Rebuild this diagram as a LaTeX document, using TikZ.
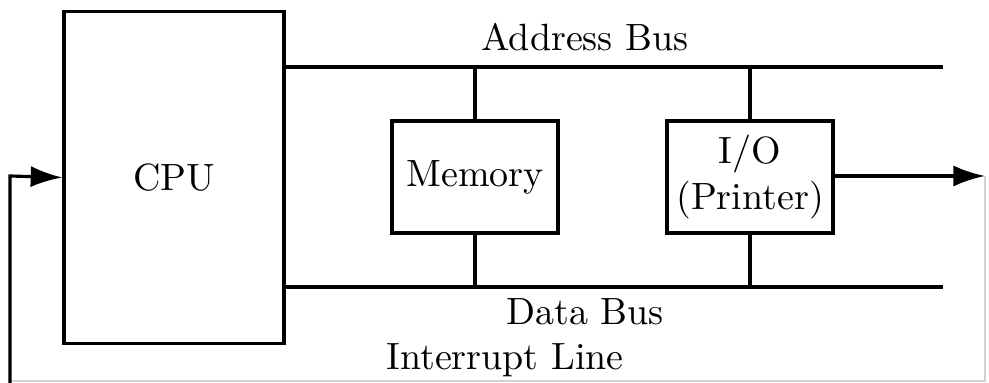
\documentclass[tikz,border=0pt]{standalone}
\usetikzlibrary{arrows.meta}
\begin{document}
\begin{tikzpicture}[x=0.01cm, y=-0.01cm, line width=0.9pt,
  font=\fontsize{10.8pt}{13pt}\selectfont,
  unit/.style={draw, inner sep=0pt, align=center},
  faint/.style={black!18, line width=0.5pt}]
  \useasboundingbox (0,0) rectangle (989,383);
  % units
  \node[unit, minimum width=2.20cm, minimum height=3.31cm] (cpu) at (174,177.5) {CPU};
  \node[unit, minimum width=1.66cm, minimum height=1.12cm] (mem) at (475,177) {Memory};
  \node[unit, minimum width=1.66cm, minimum height=1.12cm] (io) at (750,177) {I/O\\(Printer)};
  % buses
  \coordinate (abus) at (943,67);
  \coordinate (dbus) at (943,287);
  \draw (cpu.east |- abus) -- (abus);
  \draw (cpu.east |- dbus) -- (dbus);
  \draw (mem.north) -- (mem.north |- abus);
  \draw (io.north) -- (io.north |- abus);
  \draw (mem.south) -- (mem.south |- dbus);
  \draw (io.south) -- (io.south |- dbus);
  \node (alabel) at (585,37) {Address Bus};
  \node (dlabel) at (585,312) {Data Bus};
  % interrupt line
  \coordinate (rt) at (985,176);
  \coordinate (rb) at (985,381);
  \coordinate (lb) at (10,381);
  \draw[-{Latex[length=9pt, width=6pt]}] (io.east |- rt) -- (rt);
  \draw[faint] (rt) -- (rb) -- (lb);
  \draw[-{Latex[length=9pt, width=6pt]}] (10,383) -- (10,176) -- (cpu.west);
  \node (ilabel) at (505,360) {Interrupt Line};
\end{tikzpicture}
\end{document}
